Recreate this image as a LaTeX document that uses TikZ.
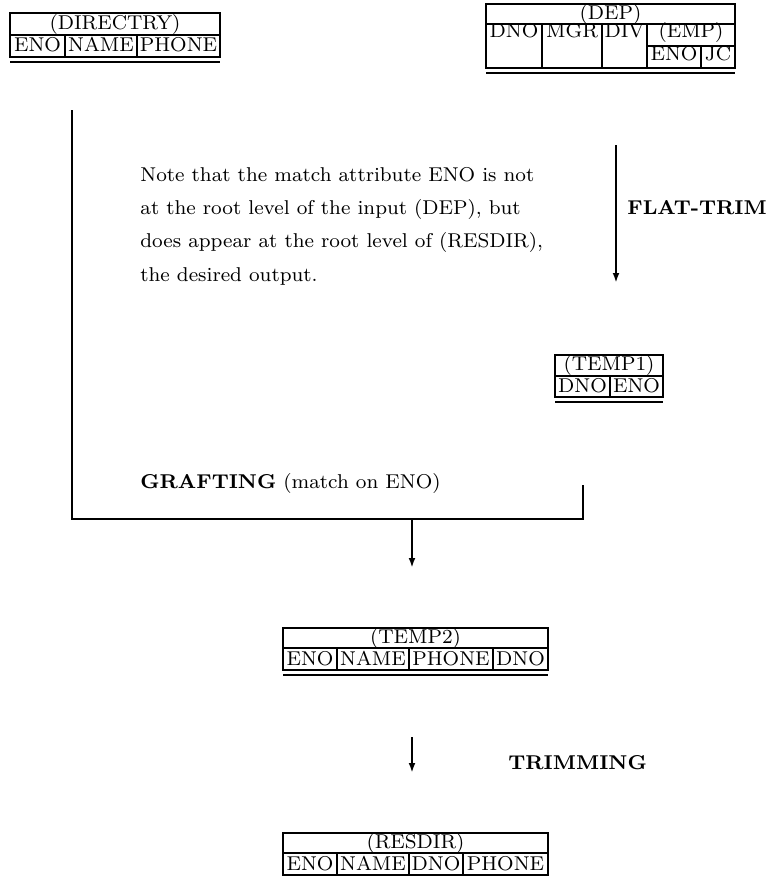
\documentclass[tikz,border=0pt]{standalone}
\usepackage{fontspec}
\setmainfont{lmroman8-regular.otf}[BoldFont=lmroman8-bold.otf]
\usetikzlibrary{arrows.meta}
\begin{document}
\begin{tikzpicture}[x=0.5pt,y=-0.5pt,
  font=\fontsize{10}{12}\selectfont,
  outer/.style={line width=1pt},
  inner/.style={line width=0.7pt},
  under/.style={line width=1.4pt},
  flow/.style={line width=1pt},
  arr/.style={flow,-{Latex[length=5pt,width=3.4pt]}},
  cell/.style={inner sep=0pt,anchor=base},
  lbl/.style={inner sep=0pt,anchor=base west,font=\fontsize{10}{12}\selectfont\bfseries},
  note/.style={inner sep=0pt,anchor=base west}]
\useasboundingbox (0,0) rectangle (767,878);

% (DIRECTRY)
\draw[outer] (10,13) rectangle (220,57);
\draw[inner] (10,35) -- (220,35) (65,35) -- (65,57) (137,35) -- (137,57);
\draw[under] (10,62) -- (220,62);
\node[cell] (dirT) at (115,29) {(DIRECTRY)};
\node[cell] (dirA) at (37.5,51) {ENO};
\node[cell] (dirB) at (101,51) {NAME};
\node[cell] (dirC) at (178.5,51) {PHONE};

% (DEP)
\draw[outer] (486,4) rectangle (735,68);
\draw[inner] (486,24) -- (735,24) (542,24) -- (542,68) (602,24) -- (602,68)
  (647,24) -- (647,68) (647,46) -- (735,46) (701,46) -- (701,68);
\draw[under] (486,73) -- (735,73);
\node[cell] (depT) at (610.5,19) {(DEP)};
\node[cell] (depA) at (514,38) {DNO};
\node[cell] (depB) at (572,38) {MGR};
\node[cell] (depC) at (624.5,38) {DIV};
\node[cell] (empT) at (691,38) {(EMP)};
\node[cell] (empA) at (674,60) {ENO};
\node[cell] (empB) at (718,60) {JC};

% (TEMP1)
\draw[outer] (555,355) rectangle (663,397);
\draw[inner] (555,376) -- (663,376) (610,376) -- (610,397);
\draw[under] (555,402) -- (663,402);
\node[cell] (t1T) at (609,370) {(TEMP1)};
\node[cell] (t1A) at (582.5,392) {DNO};
\node[cell] (t1B) at (636.5,392) {ENO};

% (TEMP2)
\draw[outer] (283,628) rectangle (548,670);
\draw[inner] (283,648) -- (548,648) (337,648) -- (337,670) (409,648) -- (409,670)
  (493,648) -- (493,670);
\draw[under] (283,675) -- (548,675);
\node[cell] (t2T) at (415.5,643) {(TEMP2)};
\node[cell] (t2A) at (310,665) {ENO};
\node[cell] (t2B) at (373,665) {NAME};
\node[cell] (t2C) at (451,665) {PHONE};
\node[cell] (t2D) at (520.5,665) {DNO};

% (RESDIR)
\draw[outer] (283,833) rectangle (548,875);
\draw[inner] (283,853) -- (548,853) (337,853) -- (337,875) (409,853) -- (409,875)
  (463,853) -- (463,875);
\node[cell] (rT) at (415.5,848) {(RESDIR)};
\node[cell] (rA) at (310,870) {ENO};
\node[cell] (rB) at (373,870) {NAME};
\node[cell] (rC) at (436,870) {DNO};
\node[cell] (rD) at (505.5,870) {PHONE};

% connectors
\coordinate (lTop) at (72,110);
\coordinate (lBot) at (72,519);
\coordinate (rTop) at (583,485);
\coordinate (rBot) at (583,519);
\coordinate (mid) at (412,519);
\coordinate (midEnd) at (412,568);
\coordinate (ftTop) at (616,145);
\coordinate (ftEnd) at (616,283);
\coordinate (trTop) at (412,737);
\coordinate (trEnd) at (412,773);
\draw[flow] (lTop) -- (lBot) -- (rBot) -- (rTop);
\draw[arr] (mid) -- (midEnd);
\draw[arr] (ftTop) -- (ftEnd);
\draw[arr] (trTop) -- (trEnd);

% labels
\node[lbl] (flat) at (627,214) {FLAT-TRIM};
\node[lbl] (trim) at (508,769) {TRIMMING};
\node[note] (graft) at (140,488) {\textbf{GRAFTING} (match on ENO)};
\node[note] (n1) at (140,181) {Note that the match attribute ENO is not};
\node[note] (n2) at (140,214) {at the root level of the input (DEP), but};
\node[note] (n3) at (140,247) {does appear at the root level of (RESDIR),};
\node[note] (n4) at (140,281) {the desired output.};
\end{tikzpicture}
\end{document}
